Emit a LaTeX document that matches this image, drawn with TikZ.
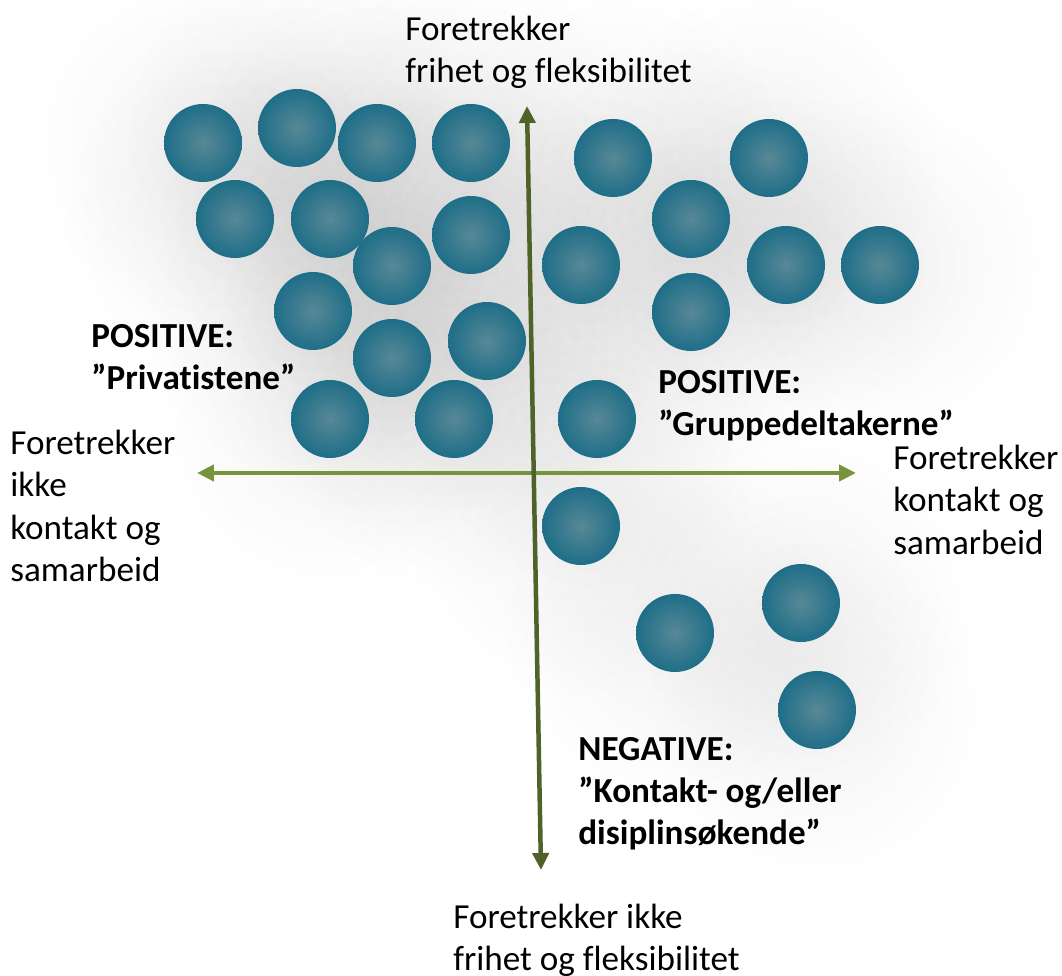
\documentclass[tikz,border=0pt]{standalone}
\usepackage{fontspec}
\setmainfont{Carlito}[Ligatures={NoCommon}]
\usetikzlibrary{arrows.meta}
\definecolor{olivedark}{RGB}{79,98,40}
\definecolor{olivemid}{RGB}{119,147,60}
\definecolor{tealin}{RGB}{88,136,150}
\definecolor{tealout}{RGB}{30,110,136}

\begin{document}
\begin{tikzpicture}[x=0.02cm, y=-0.02cm,
    person/.style={circle, minimum size=1.56cm, inner sep=0, shade, inner color=tealin, outer color=tealout},
    lbl/.style={anchor=north west, inner sep=0, align=left, font=\fontsize{20}{24}\selectfont},
    tag/.style={lbl, font=\fontsize{20}{24}\selectfont\bfseries},
    axis/.style={line width=0.09cm, {Triangle[length=0.34cm,width=0.32cm]}-{Triangle[length=0.34cm,width=0.32cm]}}]

\useasboundingbox (0,0) rectangle (1062,976);

\def\people{203/143, 297/128, 377/143, 471/143, 235/219, 330/219, 392/266, 471/235,
    313/311, 392/358, 487/341, 330/419, 454/419, 613/158, 769/158, 691/219,
    581/265, 786/265, 880/265, 691/312, 597/419, 581/526, 675/633, 801/603, 817/710}

\begin{scope}[blend group=multiply]
\foreach \x/\y in \people
\shade [inner color=black!4.5, outer color=white] (\x,\y) circle [radius=175];
\end{scope}

\foreach \x/\y [count=\i] in \people
\node [person] (p\i) at (\x,\y) {};

\coordinate (left) at (197,473);
\coordinate (right) at (856,473);
\coordinate (top) at (527,106);
\coordinate (bottom) at (541,870);
\draw [axis, olivemid] (left) -- (right);
\draw [axis, olivedark] (bottom) -- (top);

\node [lbl] (north) at (405,16) {Foretrekker\\frihet og fleksibilitet};
\node [lbl] (west) at (10,430) {Foretrekker\\ikke\\kontakt og\\samarbeid};
\node [lbl] (east) at (893,445) {Foretrekker\\kontakt og\\samarbeid};
\node [lbl] (south) at (453,904) {Foretrekker ikke\\frihet og fleksibilitet};

\node [tag] (privat) at (91,324) {POSITIVE:\\”Privatistene”};
\node [tag] (gruppe) at (658,370) {POSITIVE:\\”Gruppedeltakerne”};
\node [tag] (negativ) at (578,737) {NEGATIVE:\\”Kontakt- og/eller\\disiplinsøkende”};

\end{tikzpicture}
\end{document}
